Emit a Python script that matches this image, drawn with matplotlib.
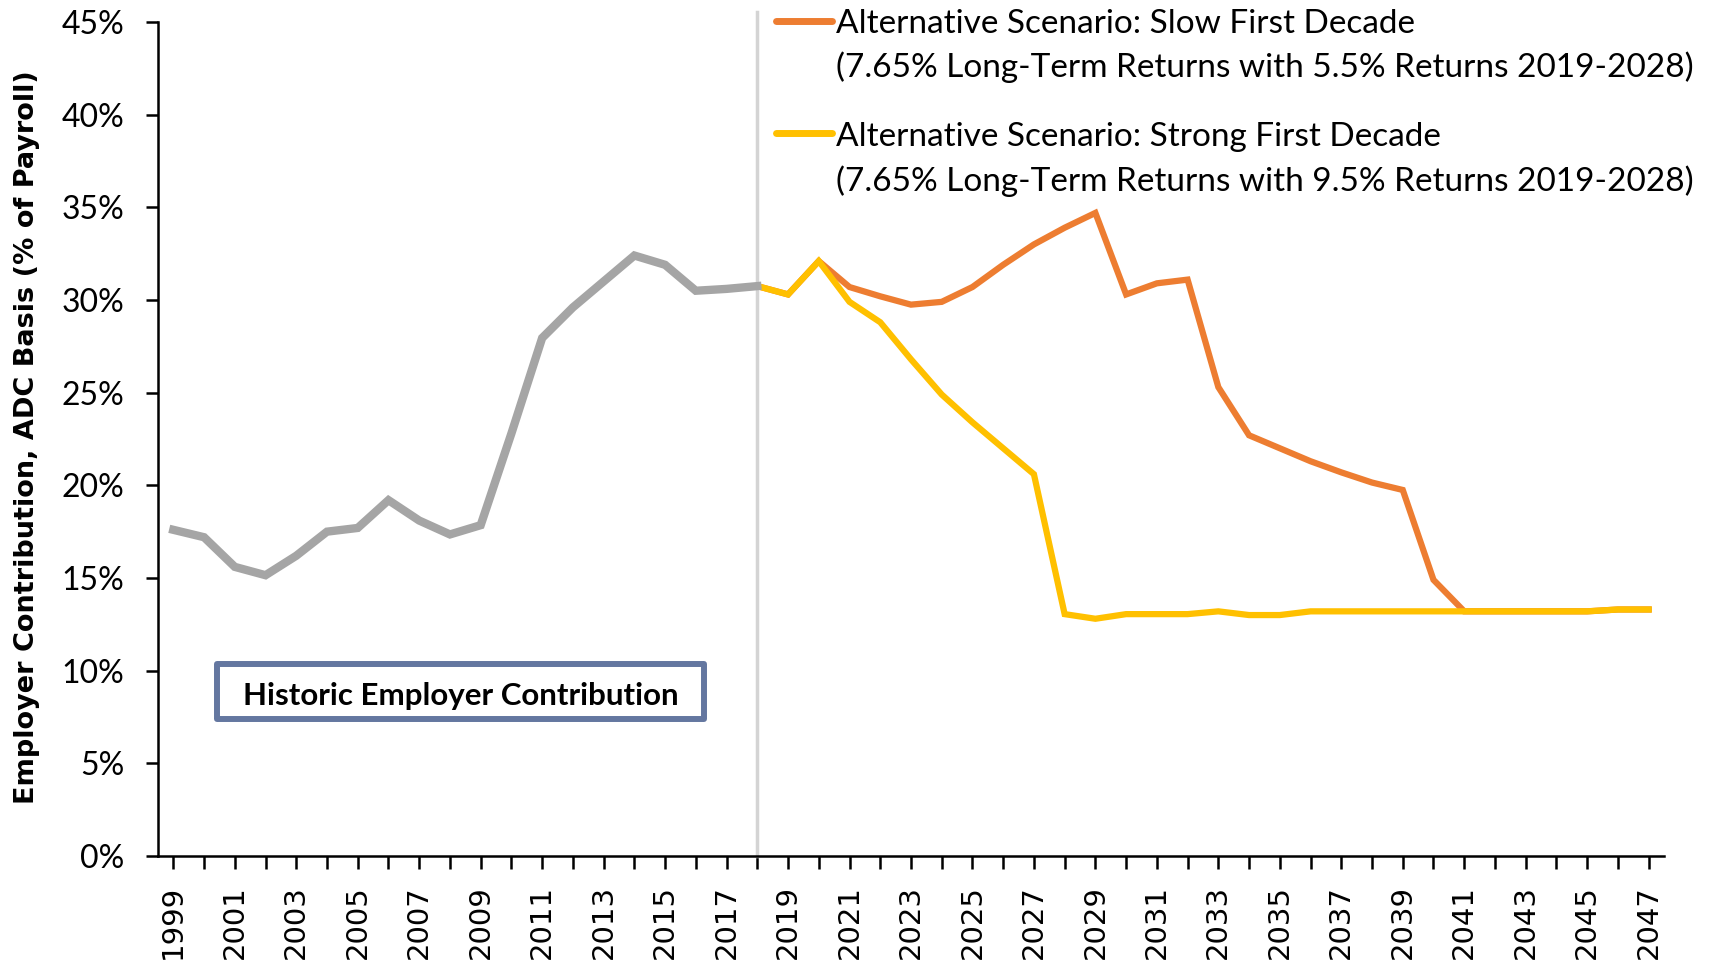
import matplotlib.pyplot as plt
from matplotlib.patches import Rectangle
from matplotlib.ticker import FuncFormatter

years = list(range(1999, 2048))

# historic employer contribution, 1999-2018 (% of payroll)
historic = [17.6, 17.2, 15.6, 15.15, 16.2, 17.5, 17.7, 19.2, 18.1, 17.35,
            17.85, 22.8, 27.95, 29.6, 31.0, 32.4, 31.9, 30.5, 30.6, 30.75]

# projections 2019-2047
slow = [30.3, 32.1, 30.7, 30.2, 29.75, 29.9, 30.7, 31.9, 33.0, 33.9,
        34.7, 30.3, 30.9, 31.1, 25.3, 22.7, 22.0, 21.3, 20.7, 20.15,
        19.75, 14.9, 13.2, 13.2, 13.2, 13.2, 13.2, 13.3, 13.3]
strong = [30.3, 32.1, 29.9, 28.8, 26.8, 24.9, 23.4, 22.0, 20.6, 13.05,
          12.8, 13.05, 13.05, 13.05, 13.2, 13.0, 13.0, 13.2, 13.2, 13.2,
          13.2, 13.2, 13.2, 13.2, 13.2, 13.2, 13.2, 13.3, 13.3]

slow_label = ("Alternative Scenario: Slow First Decade",
              "(7.65% Long-Term Returns with 5.5% Returns 2019-2028)")
strong_label = ("Alternative Scenario: Strong First Decade",
                "(7.65% Long-Term Returns with 9.5% Returns 2019-2028)")
box_text = "Historic Employer Contribution"
ylabel = "Employer Contribution, ADC Basis (% of Payroll)"

c_slow = '#ED7D31'
c_strong = '#FFC000'
c_hist = '#A5A5A5'
body = ['Lato', 'DejaVu Sans']

fig = plt.figure(figsize=(17.13, 9.66), dpi=100)
ax = fig.add_axes([0.0922, 0.1139, 0.8792, 0.8633])

x = list(range(len(years)))
nh = len(historic)
ax.plot(x, historic + slow, color=c_slow, lw=4.5, solid_joinstyle='miter', zorder=3)
ax.plot(x, historic + strong, color=c_strong, lw=4.5, solid_joinstyle='miter', zorder=4)
ax.plot(x[:nh], historic, color=c_hist, lw=6, solid_joinstyle='miter', zorder=5)

ax.axvline(nh - 1, ymin=0, ymax=1.012, color='#D4D4D4', lw=2.5, clip_on=False, zorder=2)

ax.set_xlim(-0.5, len(years) - 0.5)
ax.set_ylim(0, 45)
ax.set_yticks(range(0, 46, 5))
ax.yaxis.set_major_formatter(FuncFormatter(lambda v, p: f"{v:.0f}%"))
ax.set_xticks(x)
ax.set_xticklabels([str(y) if (y - 1999) % 2 == 0 else '' for y in years],
                   rotation=90, fontsize=21, family='DejaVu Sans')
for lab in ax.get_yticklabels():
    lab.set_family(body)
    lab.set_fontsize(23)

ax.tick_params(axis='x', length=9, width=1.8, pad=12, direction='out')
ax.tick_params(axis='y', length=9, width=1.8, pad=15, direction='out')
for s in ['top', 'right']:
    ax.spines[s].set_visible(False)
for s in ['left', 'bottom']:
    ax.spines[s].set_linewidth(1.8)

ax.set_ylabel(ylabel, fontsize=19.5, fontweight='bold')
ax.yaxis.set_label_coords(-0.078, 0.5024)

# legend, drawn by hand so the handle sits on the first line
entries = [(c_slow, slow_label, 1.0012, 0.9872, 0.9337),
           (c_strong, strong_label, 0.8665, 0.8513, 0.7977)]
for col, lab, yh, y1, y2 in entries:
    ax.plot([0.4104, 0.4475], [yh, yh], color=col, lw=5, transform=ax.transAxes,
            clip_on=False, solid_capstyle='round')
    ax.text(0.4502, y1, lab[0], transform=ax.transAxes, va='baseline', ha='left',
            fontsize=24, family=body)
    ax.text(0.4502, y2, lab[1], transform=ax.transAxes, va='baseline', ha='left',
            fontsize=24, family=body)

ax.add_patch(Rectangle((0.0392, 0.1637), 0.3234, 0.0659, transform=ax.transAxes,
                       facecolor='white', edgecolor='#6477A0', lw=4.3,
                       joinstyle='round', zorder=6))
ax.text(0.0392 + 0.3234 / 2, 0.1811, box_text, transform=ax.transAxes,
        ha='center', va='baseline', fontsize=22.5, fontweight='bold', family=body, zorder=7)

fig.savefig('out.png', dpi=100)
